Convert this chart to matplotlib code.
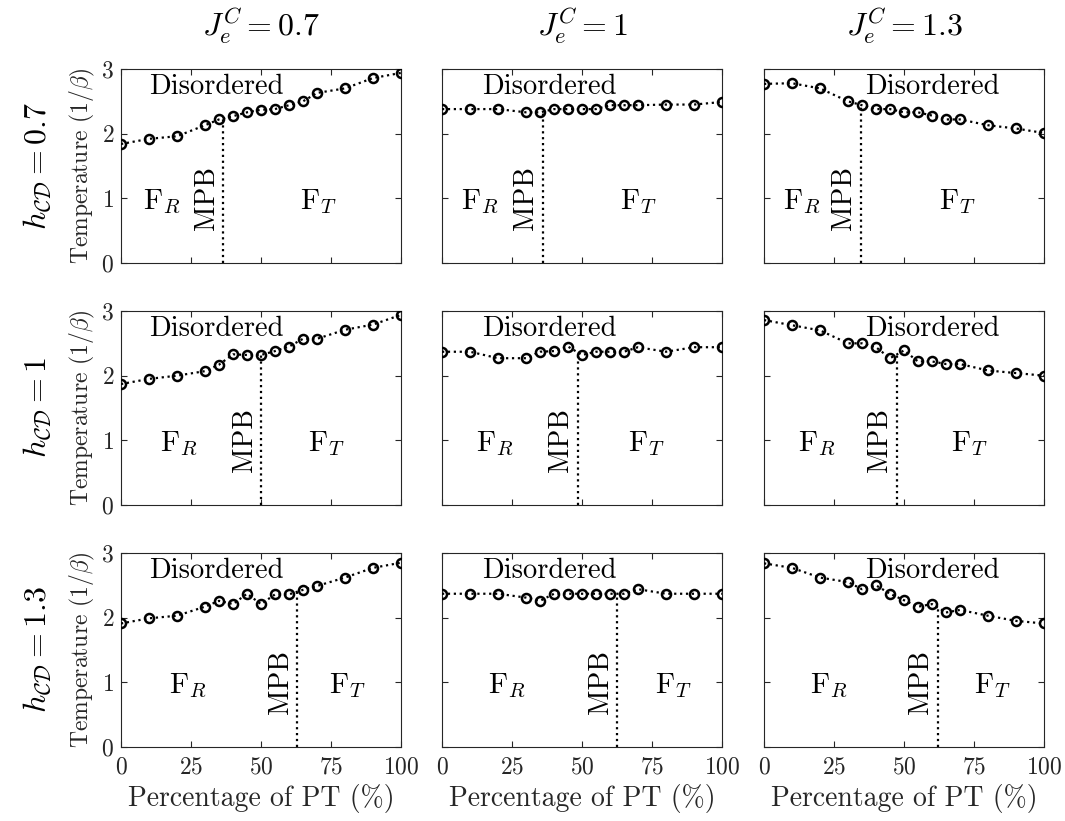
import numpy as np
import matplotlib
matplotlib.use("Agg")
import matplotlib.pyplot as plt

plt.rcParams["font.family"] = "serif"
plt.rcParams["font.serif"] = ["cmr10"]
plt.rcParams["mathtext.fontset"] = "cm"
plt.rcParams["axes.formatter.use_mathtext"] = True

# Percentage of PT sampled in every panel
pt_pct = [0, 10, 20, 30, 35, 40, 45, 50, 55, 60, 65, 70, 80, 90, 100]

# Transition temperatures, rows: h_CD = 0.7, 1, 1.3 ; columns: J_e^C = 0.7, 1, 1.3
temp_h07_j07 = [1.84, 1.92, 1.96, 2.13, 2.22, 2.27, 2.33, 2.37, 2.38, 2.44, 2.50, 2.63, 2.70, 2.86, 2.94]
temp_h07_j10 = [2.38, 2.38, 2.38, 2.33, 2.33, 2.38, 2.38, 2.38, 2.38, 2.44, 2.44, 2.44, 2.45, 2.45, 2.49]
temp_h07_j13 = [2.77, 2.78, 2.70, 2.50, 2.44, 2.38, 2.38, 2.33, 2.33, 2.28, 2.22, 2.22, 2.13, 2.08, 2.01]

temp_h10_j07 = [1.87, 1.95, 2.00, 2.07, 2.17, 2.33, 2.32, 2.32, 2.38, 2.45, 2.57, 2.57, 2.71, 2.79, 2.94]
temp_h10_j10 = [2.37, 2.37, 2.27, 2.27, 2.37, 2.38, 2.45, 2.32, 2.37, 2.37, 2.37, 2.44, 2.37, 2.44, 2.44]
temp_h10_j13 = [2.86, 2.78, 2.70, 2.50, 2.50, 2.44, 2.27, 2.39, 2.22, 2.22, 2.18, 2.18, 2.08, 2.04, 2.00]

temp_h13_j07 = [1.91, 1.99, 2.03, 2.17, 2.26, 2.21, 2.37, 2.21, 2.36, 2.36, 2.43, 2.49, 2.62, 2.77, 2.85]
temp_h13_j10 = [2.37, 2.37, 2.37, 2.31, 2.26, 2.37, 2.37, 2.37, 2.37, 2.37, 2.37, 2.44, 2.37, 2.37, 2.37]
temp_h13_j13 = [2.84, 2.77, 2.62, 2.55, 2.44, 2.50, 2.37, 2.27, 2.17, 2.21, 2.08, 2.12, 2.03, 1.95, 1.91]

temps = [
    [temp_h07_j07, temp_h07_j10, temp_h07_j13],
    [temp_h10_j07, temp_h10_j10, temp_h10_j13],
    [temp_h13_j07, temp_h13_j10, temp_h13_j13],
]

# Morphotropic phase boundary position (% PT)
mpb_h07 = [36.5, 36.0, 34.5]
mpb_h10 = [50.0, 48.5, 47.4]
mpb_h13 = [63.0, 62.5, 62.0]
mpb = [mpb_h07, mpb_h10, mpb_h13]

col_titles = [r"$J_e^C = 0.7$", r"$J_e^C = 1$", r"$J_e^C = 1.3$"]
row_titles = [r"$h_{\mathcal{CD}} = 0.7$", r"$h_{\mathcal{CD}} = 1$", r"$h_{\mathcal{CD}} = 1.3$"]

x_ticks = [0, 25, 50, 75, 100]
y_ticks = [0, 1, 2, 3]

# label placement (data coordinates) per row / column
disordered_x = [34, 38.5, 60]
fr_x = [[14.5, 13.5, 13.5], [20.5, 19.0, 19.0], [24.0, 23.0, 23.0]]
ft_x = [[70.5, 70.0, 69.0], [73.5, 73.0, 73.5], [81.0, 82.5, 81.5]]

W, H = 1065, 821
fig = plt.figure(figsize=(W / 100, H / 100), dpi=100)

col_left = [121, 442, 764]
row_top = [69, 311, 553]
ax_w, ax_h = 280, 194

axis_grey = "0.15"

for r in range(3):
    for c in range(3):
        ax = fig.add_axes([col_left[c] / W, 1 - (row_top[r] + ax_h) / H, ax_w / W, ax_h / H])
        y = temps[r][c]
        ax.plot(pt_pct, y, linestyle=":", color="k", linewidth=1.6,
                marker="o", markersize=6.5, markerfacecolor="none",
                markeredgewidth=1.8, markeredgecolor="k", zorder=3)
        xm = mpb[r][c]
        ax.plot([xm, xm], [0, np.interp(xm, pt_pct, y)], linestyle=":", color="k",
                linewidth=1.6, zorder=2)

        ax.text(disordered_x[c], 2.72, "Disordered", ha="center", va="center", fontsize=20.5)
        ax.text(fr_x[r][c], 0.95, r"F$_R$", ha="center", va="center", fontsize=21)
        ax.text(ft_x[r][c], 0.95, r"F$_T$", ha="center", va="center", fontsize=21)
        ax.text(xm - 1.2, 1.0, "MPB", rotation=90, ha="right", va="center", fontsize=20)

        ax.set_xlim(0, 100)
        ax.set_ylim(0, 3)
        ax.set_xticks(x_ticks)
        ax.set_yticks(y_ticks)
        ax.tick_params(direction="in", top=True, right=True, length=4, width=0.8,
                       colors=axis_grey, labelsize=17, labelcolor=axis_grey)
        ax.tick_params(axis="x", pad=7)
        ax.tick_params(axis="y", pad=5)
        for s in ax.spines.values():
            s.set_color(axis_grey)
            s.set_linewidth(0.8)

        if c == 0:
            ax.set_ylabel(r"Temperature $(1/\beta)$", fontsize=17, color=axis_grey, labelpad=3)
        else:
            ax.set_yticklabels([])
        if r == 2:
            ax.set_xlabel("Percentage of PT (%)", fontsize=20, color=axis_grey, labelpad=4)
        else:
            ax.set_xticklabels([])

        if r == 0:
            ax.set_title(col_titles[c], fontsize=23, pad=24)

for r in range(3):
    yc = 1 - (row_top[r] + ax_h / 2) / H
    fig.text(37 / W, yc, row_titles[r], rotation=90, ha="center", va="center", fontsize=23)

fig.savefig("out.png", dpi=100)
